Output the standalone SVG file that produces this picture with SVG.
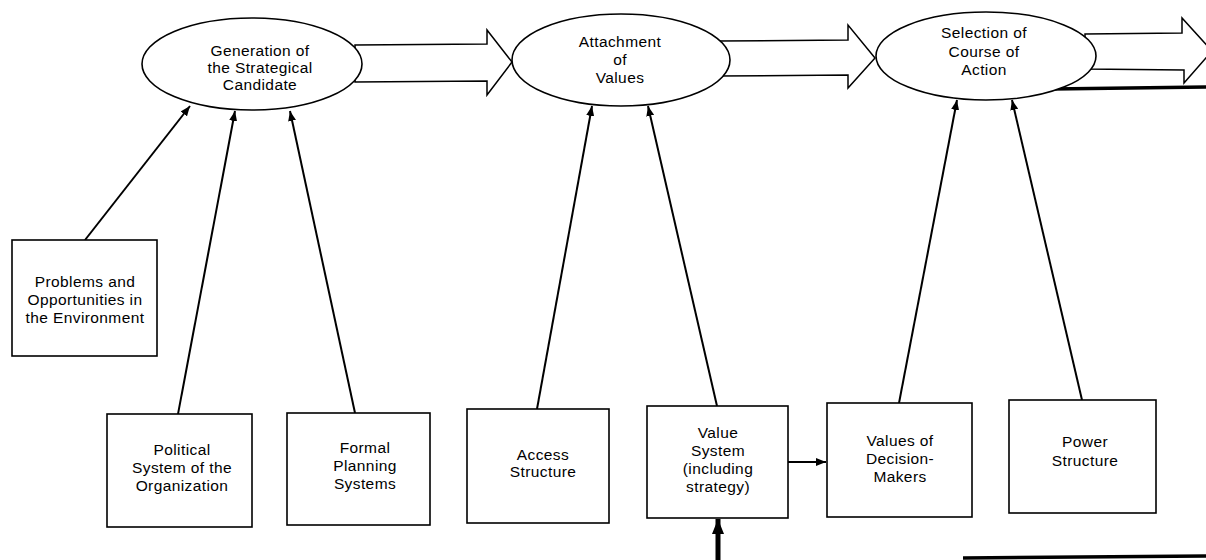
<svg xmlns="http://www.w3.org/2000/svg" width="1206" height="560" viewBox="0 0 1206 560">
<defs>
<marker id="ah" viewBox="0 0 10 8" refX="10" refY="4" markerWidth="5" markerHeight="4" orient="auto" markerUnits="strokeWidth">
<path d="M0,0 L10,4 L0,8 Z" fill="#000"/>
</marker>
<marker id="ahs" viewBox="0 0 10 8" refX="10" refY="4" markerWidth="3" markerHeight="2.4" orient="auto" markerUnits="strokeWidth">
<path d="M0,0 L10,4 L0,8 Z" fill="#000"/>
</marker>
</defs>
<style>
.n{fill:#fff;stroke:#000;stroke-width:1.6}
.t{font-family:"Liberation Sans",Arial,sans-serif;font-size:15.5px;letter-spacing:0.4px;fill:#000;text-anchor:middle}
.c{fill:none;stroke:#000;stroke-width:2}
.big{fill:#fff;stroke:#000;stroke-width:1.5;stroke-linejoin:miter}
.thick{fill:none;stroke:#000;stroke-width:3.5}
</style>
<rect width="1206" height="560" fill="#fff"/>
<g id="connectors">
<polygon class="big" points="355,45 487,44 487,30 512,62 487,95 487,81 355,82"/>
<polygon class="big" points="718,41 848,40 848,25 875,58 848,88 848,75 718,76"/>
<polygon class="big" points="1085,34 1182,33 1182,18 1212,51 1184,83 1184,70 1085,69"/>
<line class="thick" x1="1052" y1="89" x2="1206" y2="87"/>
<line class="thick" x1="963" y1="558" x2="1206" y2="556"/>
<line class="c" x1="85" y1="240" x2="190" y2="106" marker-end="url(#ah)"/>
<line class="c" x1="178" y1="414" x2="235" y2="111" marker-end="url(#ah)"/>
<line class="c" x1="355" y1="413" x2="290" y2="111" marker-end="url(#ah)"/>
<line class="c" x1="537" y1="409" x2="592" y2="106" marker-end="url(#ah)"/>
<line class="c" x1="717" y1="406" x2="648" y2="106" marker-end="url(#ah)"/>
<line class="c" x1="899" y1="403" x2="957" y2="100" marker-end="url(#ah)"/>
<line class="c" x1="1082" y1="400" x2="1012" y2="100" marker-end="url(#ah)"/>
<line class="c" x1="788" y1="462" x2="826" y2="462" marker-end="url(#ah)"/>
<line x1="718" y1="560" x2="718" y2="519" stroke="#000" stroke-width="5" fill="none" marker-end="url(#ahs)"/>
</g>
<g id="gen">
<ellipse class="n" cx="252" cy="64" rx="110" ry="46"/>
<text class="t" x="260" y="56">Generation of</text>
<text class="t" x="260" y="73">the Strategical</text>
<text class="t" x="260" y="90">Candidate</text>
</g>
<g id="attach">
<ellipse class="n" cx="621" cy="60" rx="109" ry="46"/>
<text class="t" x="620" y="47">Attachment</text>
<text class="t" x="620" y="65">of</text>
<text class="t" x="620" y="83">Values</text>
</g>
<g id="select">
<ellipse class="n" cx="986" cy="56" rx="110" ry="44"/>
<text class="t" x="984" y="38">Selection of</text>
<text class="t" x="984" y="57">Course of</text>
<text class="t" x="984" y="75">Action</text>
</g>
<g id="problems">
<rect class="n" x="12" y="240" width="145" height="116"/>
<text class="t" x="85" y="287">Problems and</text>
<text class="t" x="85" y="305">Opportunities in</text>
<text class="t" x="85" y="323">the Environment</text>
</g>
<g id="political">
<rect class="n" x="107" y="414" width="145" height="113"/>
<text class="t" x="182" y="455">Political</text>
<text class="t" x="182" y="473">System of the</text>
<text class="t" x="182" y="491">Organization</text>
</g>
<g id="formal">
<rect class="n" x="287" y="413" width="143" height="112"/>
<text class="t" x="365" y="453">Formal</text>
<text class="t" x="365" y="471">Planning</text>
<text class="t" x="365" y="489">Systems</text>
</g>
<g id="access">
<rect class="n" x="467" y="409" width="142" height="114"/>
<text class="t" x="543" y="460">Access</text>
<text class="t" x="543" y="477">Structure</text>
</g>
<g id="valuesystem">
<rect class="n" x="647" y="406" width="141" height="112"/>
<text class="t" x="718" y="438">Value</text>
<text class="t" x="718" y="456">System</text>
<text class="t" x="718" y="474">(including</text>
<text class="t" x="718" y="492">strategy)</text>
</g>
<g id="decisionmakers">
<rect class="n" x="827" y="403" width="145" height="114"/>
<text class="t" x="900" y="446">Values of</text>
<text class="t" x="900" y="464">Decision-</text>
<text class="t" x="900" y="482">Makers</text>
</g>
<g id="power">
<rect class="n" x="1009" y="400" width="147" height="113"/>
<text class="t" x="1085" y="447">Power</text>
<text class="t" x="1085" y="466">Structure</text>
</g>
</svg>
